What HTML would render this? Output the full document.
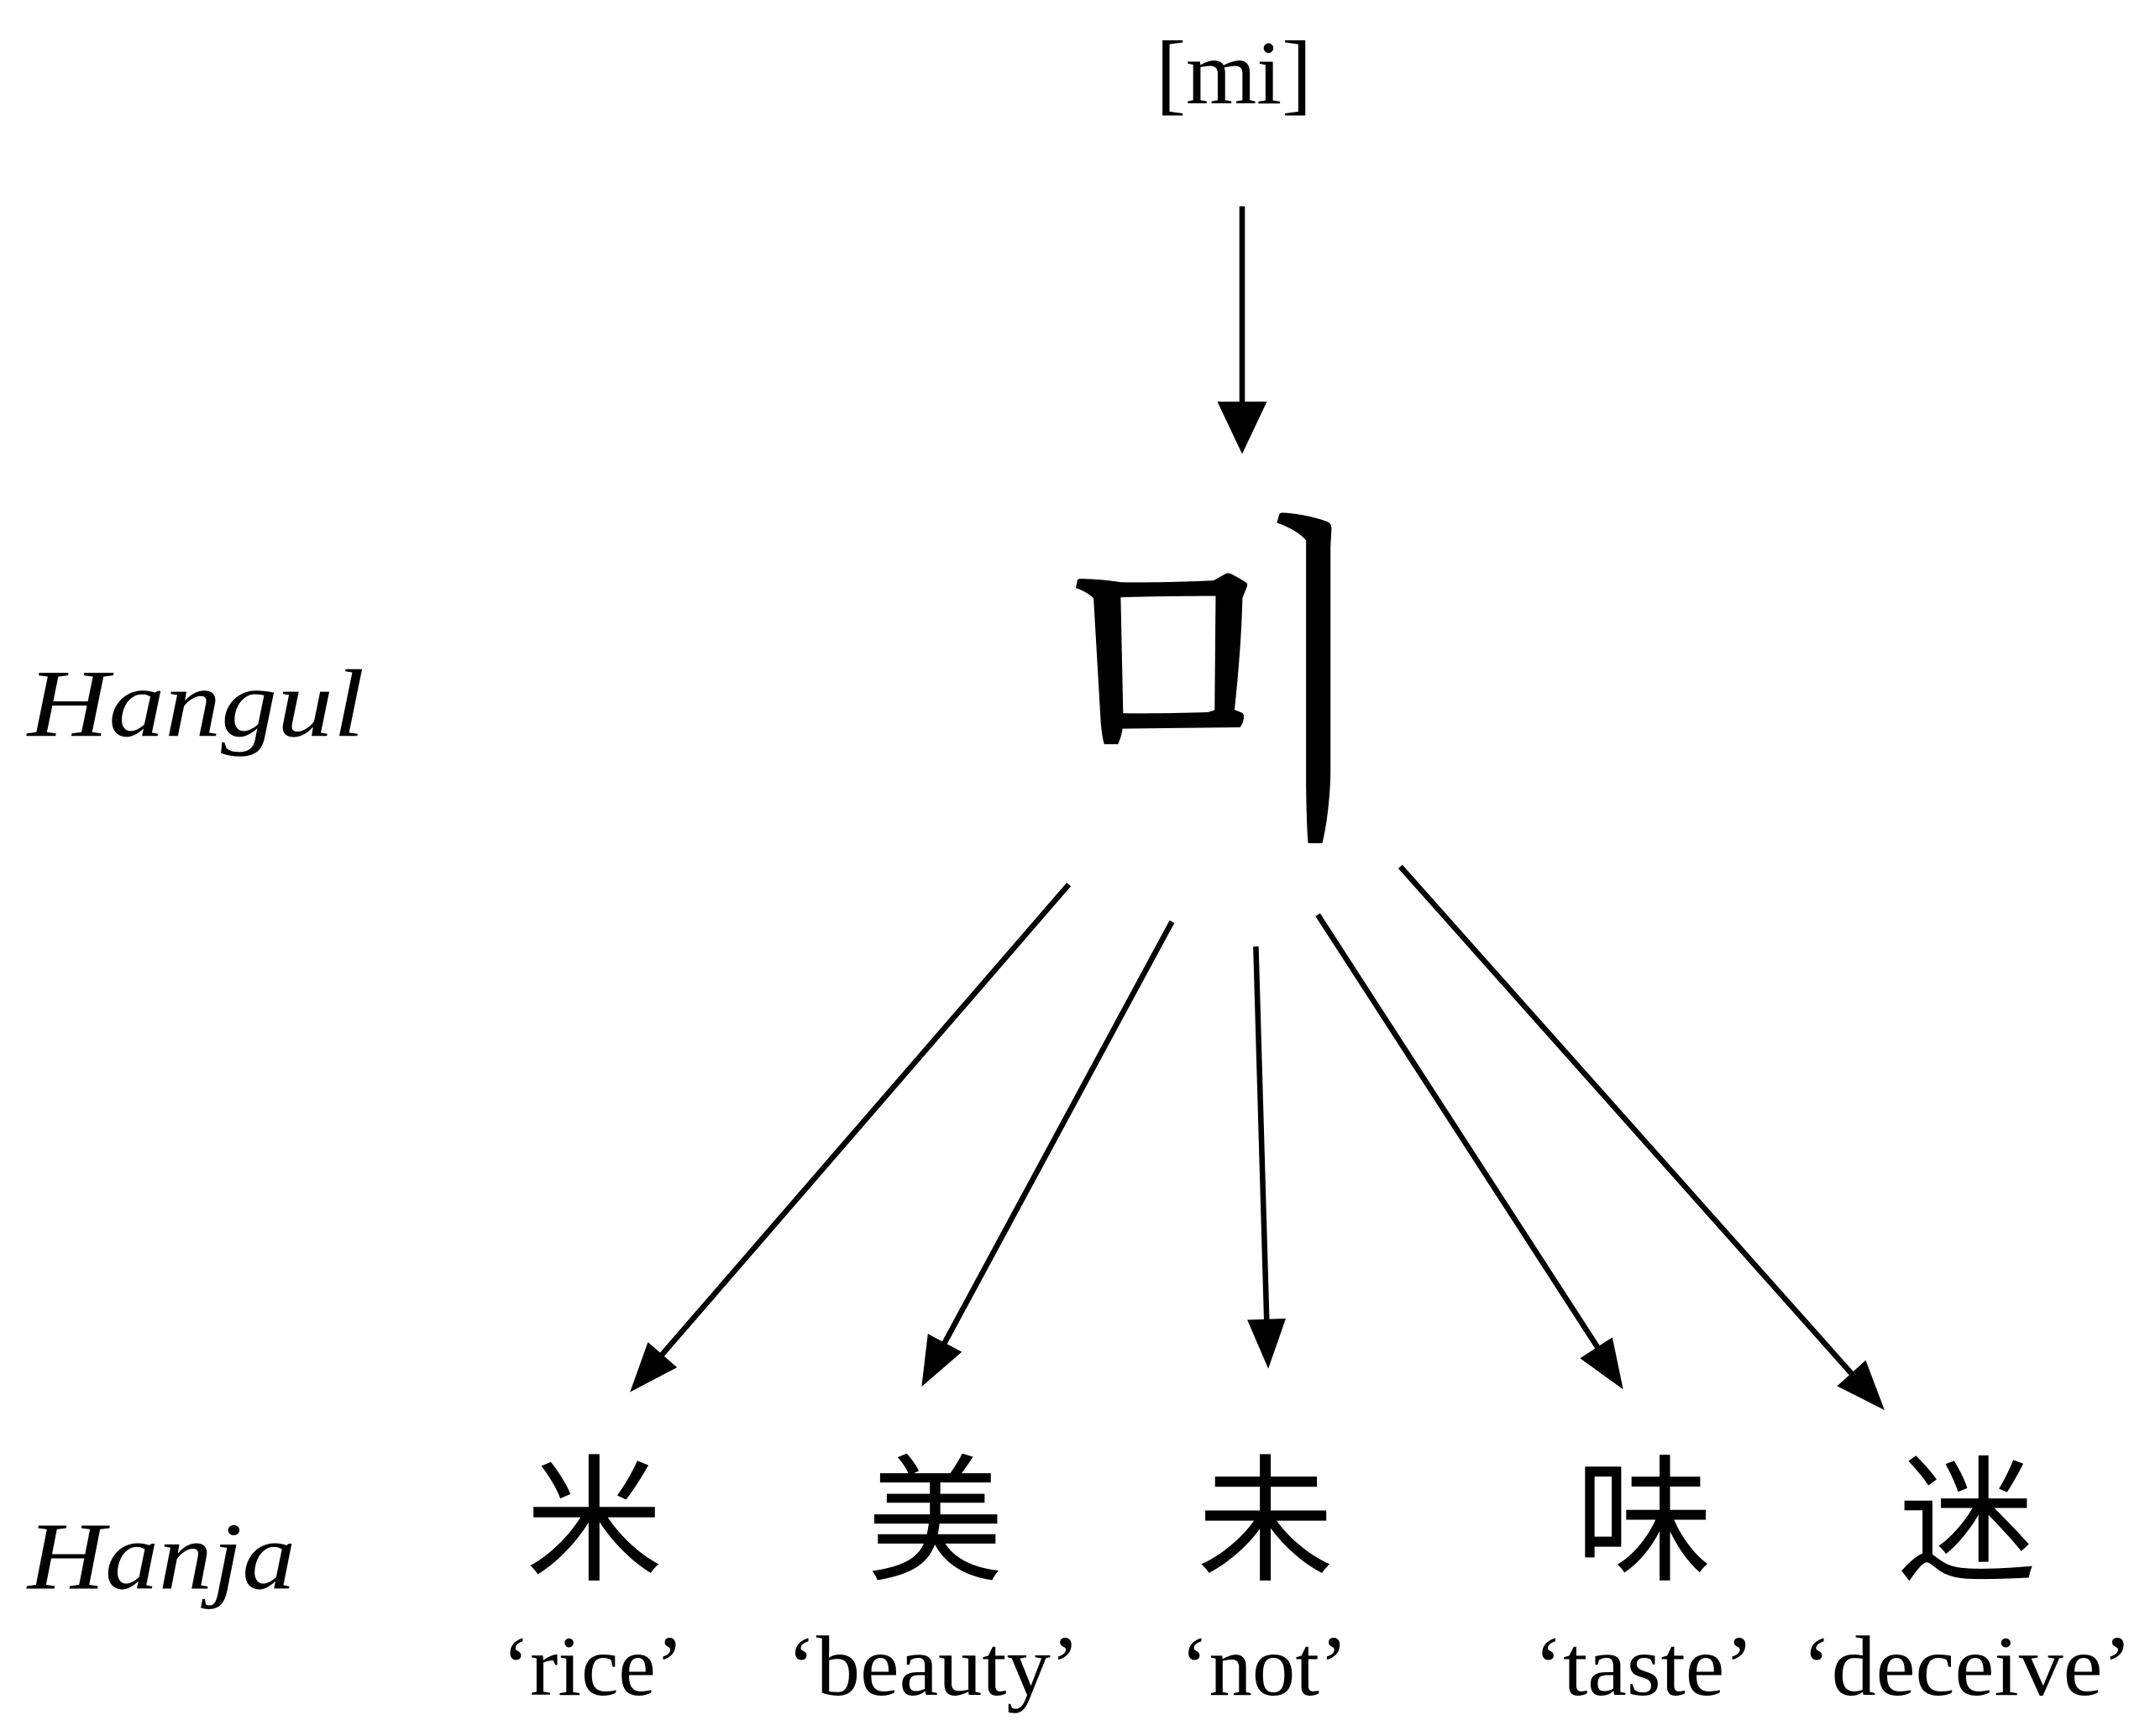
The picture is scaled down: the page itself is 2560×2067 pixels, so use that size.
<!DOCTYPE html>
<html><head><meta charset="utf-8"><style>
html,body{margin:0;padding:0;background:#fff;}
svg{display:block;}
</style></head><body>
<svg width="2560" height="2067" viewBox="0 0 1563 1262" preserveAspectRatio="none" xmlns="http://www.w3.org/2000/svg">
<g font-family="'Liberation Serif', serif" fill="#000">
<text x="897" y="75" font-size="66" text-anchor="middle">[mi]</text>
<text x="20" y="535" font-size="70" font-style="italic" textLength="245" lengthAdjust="spacingAndGlyphs">Hangul</text>
<text x="20" y="1155" font-size="70" font-style="italic" textLength="195" lengthAdjust="spacingAndGlyphs">Hanja</text>
<text x="885" y="586" font-size="250" text-anchor="middle" font-family="'Liberation Serif','Noto Serif CJK SC',serif">미</text>
<g font-family="'Liberation Sans','Noto Sans CJK SC',sans-serif" font-size="100" text-anchor="middle">
<text x="432" y="1141">米</text>
<text x="680" y="1141">美</text>
<text x="920" y="1141">未</text>
<text x="1195" y="1141">味</text>
<text x="1430" y="1141">迷</text>
</g>
<g font-size="62">
<text x="365" y="1232" textLength="132" lengthAdjust="spacingAndGlyphs">‘rice’</text>
<text x="572" y="1232" textLength="213" lengthAdjust="spacingAndGlyphs">‘beauty’</text>
<text x="858" y="1232" textLength="122" lengthAdjust="spacingAndGlyphs">‘not’</text>
<text x="1115" y="1232" textLength="160" lengthAdjust="spacingAndGlyphs">‘taste’</text>
<text x="1310" y="1232" textLength="240" lengthAdjust="spacingAndGlyphs">‘deceive’</text>
</g>
</g>
<g stroke="#000" stroke-width="4" fill="none">
<line x1="903" y1="150" x2="903" y2="300"/>
<line x1="777" y1="643" x2="475" y2="992"/>
<line x1="852" y1="670" x2="683" y2="983"/>
<line x1="913" y1="688" x2="921" y2="965"/>
<line x1="958" y1="665" x2="1165" y2="985"/>
<line x1="1018" y1="630" x2="1350" y2="1003"/>
</g>
<g fill="#000">
<polygon points="903,330 885,292 921,292"/>
<polygon points="0,0 -36,-14 -36,14" transform="translate(458,1012) rotate(131)"/>
<polygon points="0,0 -36,-14 -36,14" transform="translate(670,1008) rotate(118)"/>
<polygon points="0,0 -36,-14 -36,14" transform="translate(922,995) rotate(88)"/>
<polygon points="0,0 -36,-14 -36,14" transform="translate(1180,1010) rotate(57)"/>
<polygon points="0,0 -36,-14 -36,14" transform="translate(1370,1025) rotate(48)"/>
</g>
</svg>
</body></html>
